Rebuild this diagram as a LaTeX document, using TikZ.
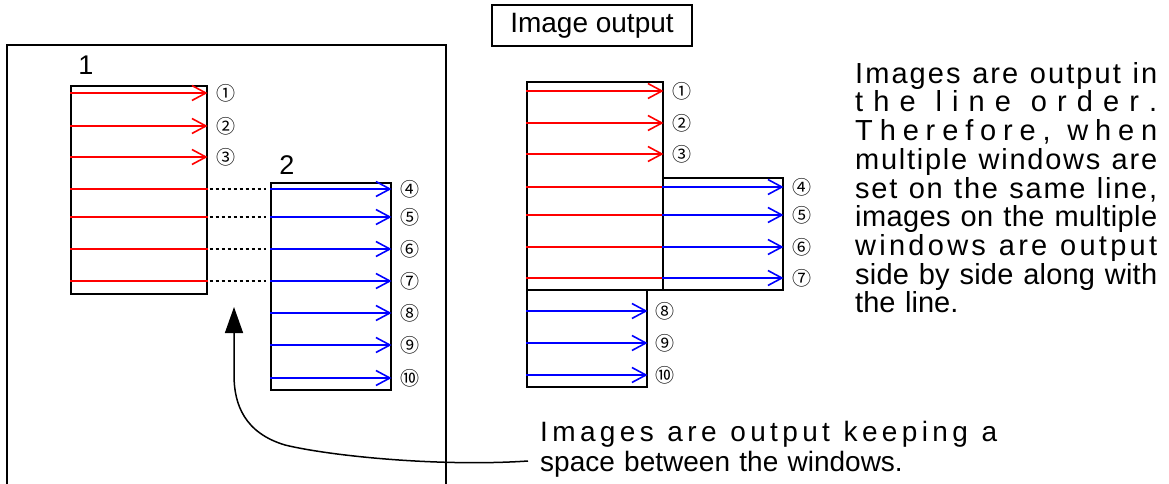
\documentclass[tikz,border=0pt]{standalone}
\usepackage{fontspec}
\setmainfont{Liberation Sans}
\newfontfamily\circfont{Noto Sans CJK JP}
\usetikzlibrary{arrows.meta}
\ExplSyntaxOn
\NewDocumentCommand \spreadline { m m }
  {
    \hbox_to_wd:nn {#1}
      {
        \tl_set:Nn \l_tmpa_tl {#2}
        \tl_replace_all:Nnn \l_tmpa_tl { ~ } { | }
        \tl_map_inline:Nn \l_tmpa_tl
          {
            \str_if_eq:nnTF {##1} { | }
              { \c_space_tl }
              { ##1 \hfil }
          }
        \unskip
      }
  }
\ExplSyntaxOff
\begin{document}
\begin{tikzpicture}[x=1pt,y=-1pt,
  win/.style={draw, line width=1.6pt, inner sep=0pt, anchor=north west},
  redarr/.style={draw=red, line width=1.6pt, -{Straight Barb[length=14pt,width=15pt,line width=1.6pt]}},
  bluearr/.style={draw=blue, line width=1.6pt, -{Straight Barb[length=14pt,width=15pt,line width=1.6pt]}},
  redline/.style={draw=red, line width=1.6pt},
  gap/.style={draw=black, line width=1.5pt, dash pattern=on 3pt off 3pt, shorten <=2pt, shorten >=4pt},
  num/.style={font=\circfont\fontsize{19}{19}\selectfont, inner sep=0pt},
  lbl/.style={font=\fontsize{27}{27}\selectfont, inner sep=0pt},
  txt/.style={inner sep=0pt, anchor=north west, align=left}
]
\useasboundingbox (0,0) rectangle (1169,484);
% outer frame
\draw[line width=1.5pt] (7,484) -- (7,45) -- (446,45) -- (446,484);
% windows left
\node[win, minimum width=136pt, minimum height=208pt] (w1) at (70,85) {};
\node[win, minimum width=120pt, minimum height=207pt] (w2) at (270,182) {};
\node[lbl] (l1) at (86,65) {1};
\node[lbl] (l2) at (287,165) {2};
\foreach \y/\t [count=\i] in {93/①,126/②,157/③} {
  \draw[redarr] (w1.west |- 0,\y) -- (w1.east |- 0,\y);
  \node[num] (la\i) at (226,\y) {\t};
}
\foreach \y in {189,217,249,281} {
  \draw[redline] (w1.west |- 0,\y) -- (w1.east |- 0,\y);
  \draw[gap] (w1.east |- 0,\y) -- (w2.west |- 0,\y);
}
\foreach \y/\t [count=\i] in {189/④,217/⑤,249/⑥,281/⑦,313/⑧,345/⑨,378/⑩} {
  \draw[bluearr] (w2.west |- 0,\y) -- (w2.east |- 0,\y);
  \node[num] (lb\i) at (410,\y) {\t};
}
% title
\node[draw, line width=1.5pt, minimum width=200pt, minimum height=41pt, inner sep=0pt,
      font=\fontsize{28}{28}\selectfont] (title) at (592,25.5) {Image output};
% windows right
\node[win, minimum width=136pt, minimum height=208pt] (wa) at (526,81) {};
\node[win, minimum width=120pt, minimum height=112pt] (wb) at (662,177) {};
\node[win, minimum width=120pt, minimum height=97pt] (wc) at (526,289) {};
\foreach \y/\t [count=\i] in {91/①,123/②,154/③} {
  \draw[redarr] (wa.west |- 0,\y) -- (wa.east |- 0,\y);
  \node[num] (ra\i) at (682,\y) {\t};
}
\foreach \y/\t [count=\i] in {187/④,215/⑤,247/⑥,278/⑦} {
  \draw[redline] (wa.west |- 0,\y) -- (wa.east |- 0,\y);
  \draw[bluearr] (wb.west |- 0,\y) -- (wb.east |- 0,\y);
  \node[num] (rb\i) at (802,\y) {\t};
}
\foreach \y/\t [count=\i] in {311/⑧,343/⑨,375/⑩} {
  \draw[bluearr] (wc.west |- 0,\y) -- (wc.east |- 0,\y);
  \node[num] (rc\i) at (665,\y) {\t};
}
% description
\node[txt, font=\fontsize{29}{28.7}\selectfont, text width=302pt] (desc) at (855,62)
 {\lineskiplimit=-100pt\relax
  \spreadline{302pt}{Images are output in}
  \spreadline{302pt}{the line order.}
  \spreadline{302pt}{Therefore, when}
  \spreadline{302pt}{multiple windows are}
  \spreadline{302pt}{set on the same line,}
  \spreadline{302pt}{images on the multiple}
  \spreadline{302pt}{windows are output}
  \spreadline{302pt}{side by side along with}
  \hbox{the line.}};
\node[txt, font=\fontsize{28}{30.5}\selectfont, text width=460pt] (note) at (540,421)
 {\lineskiplimit=-100pt\relax
  \spreadline{457pt}{Images are output keeping a}
  \hbox{space between the windows.}};
% curved arrow
\coordinate (cs) at (528,461);
\coordinate (tip) at (234,307);
\draw[line width=1.5pt, -{Triangle[length=26pt,width=18pt]}] (cs)
  .. controls (440,467) and (330,456) .. (285,445)
  .. controls (245,433) and (234,405) .. (234,375) -- (tip);
\end{tikzpicture}
\end{document}
